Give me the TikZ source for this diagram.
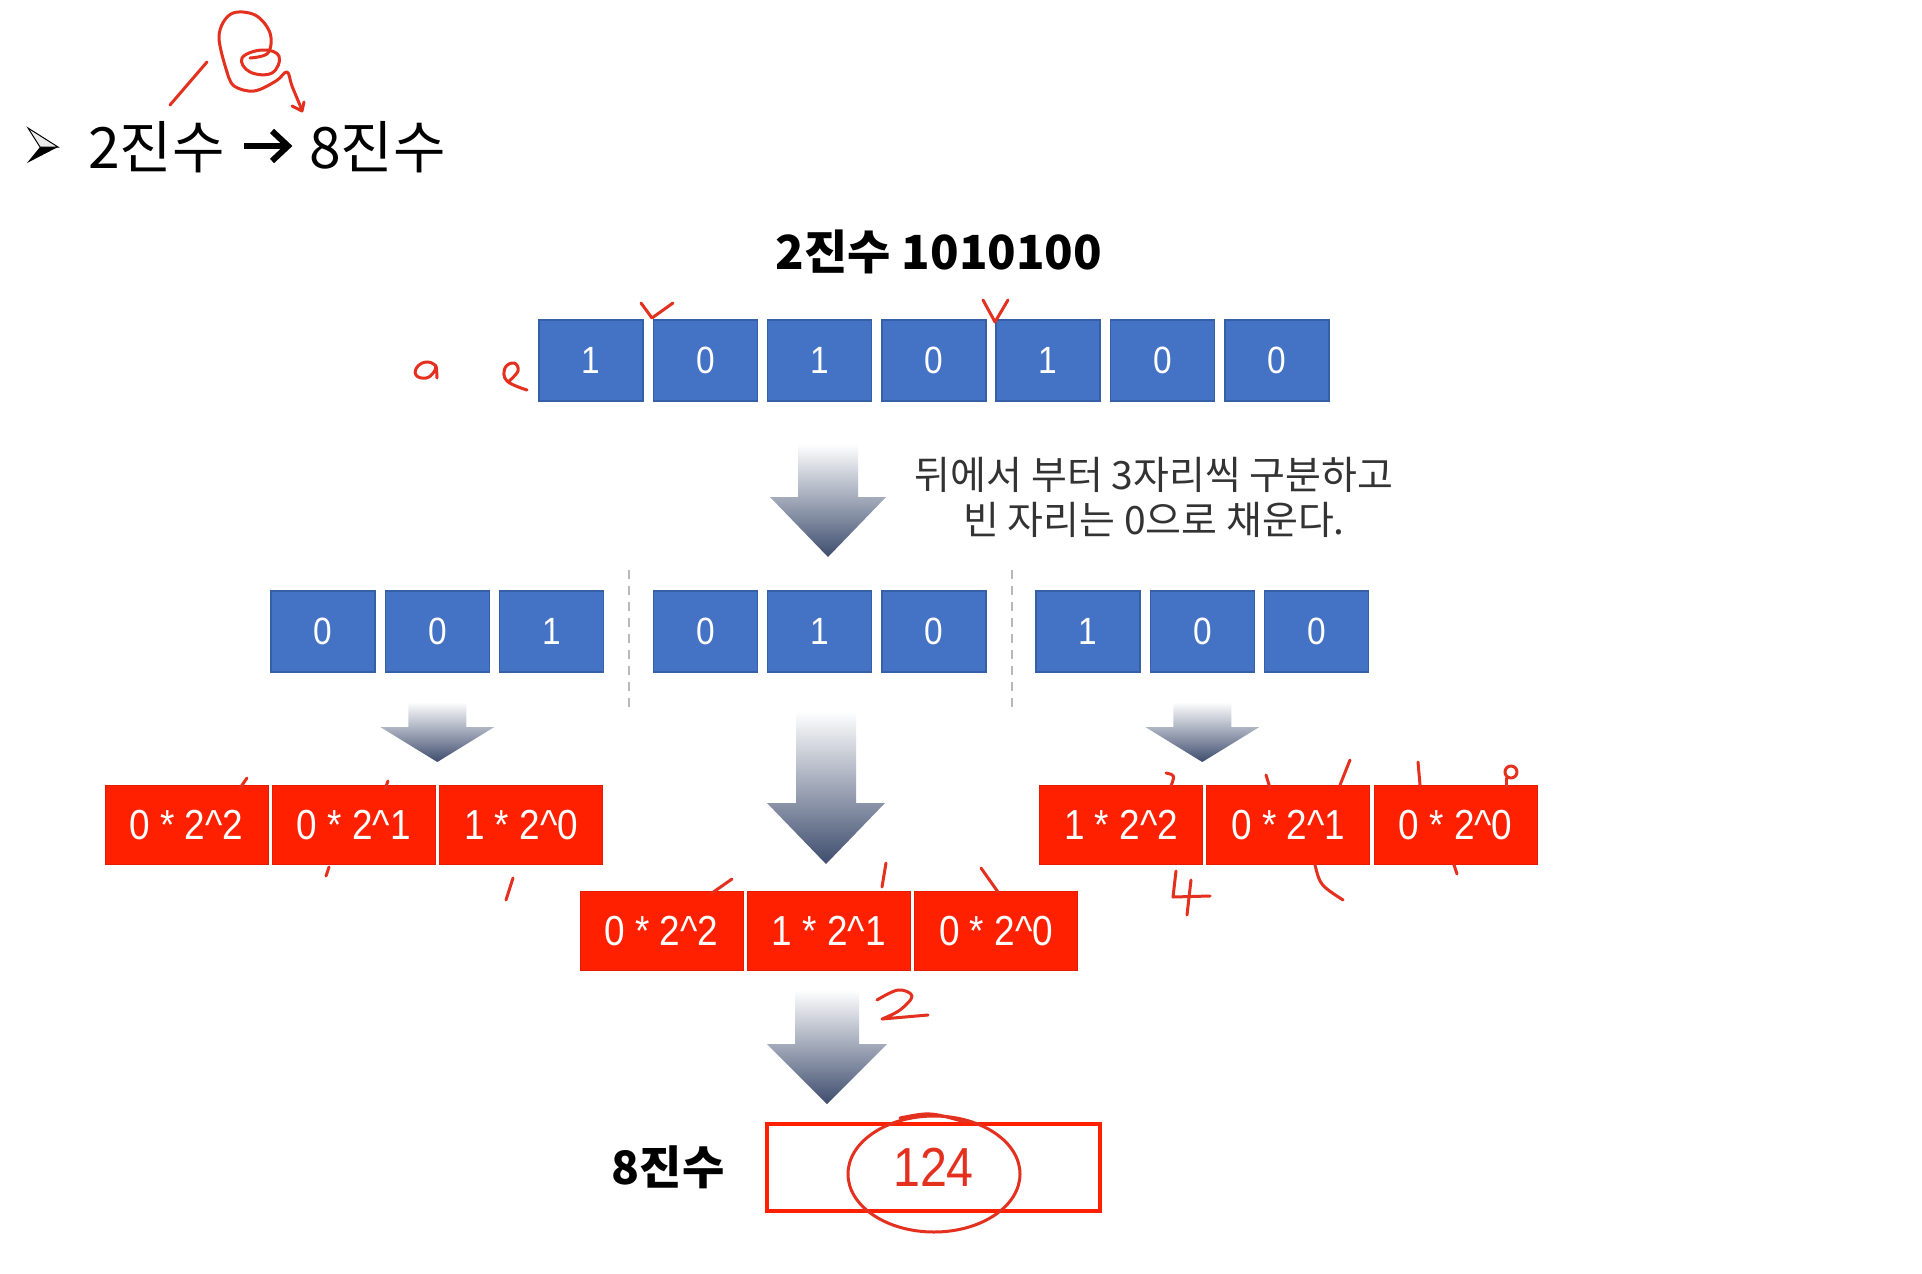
\documentclass[tikz,border=0pt]{standalone}
\usepackage{fontspec}
\setmainfont{Noto Sans CJK KR}
\newfontfamily\numfont[FakeStretch=0.88]{Liberation Sans}
\definecolor{boxblue}{HTML}{4472C4}
\definecolor{boxblueedge}{HTML}{3560A8}
\definecolor{boxred}{HTML}{FF2000}
\definecolor{boxrededge}{HTML}{E41C00}
\definecolor{arrowdark}{HTML}{3E4D6E}
\definecolor{ink}{HTML}{E4301E}
\definecolor{textgray}{HTML}{333333}
\newcommand{\downblockarrow}[6]{%
  \shade[top color=white, bottom color=arrowdark]
    (#1-#5,#2) -- (#1+#5,#2) -- (#1+#5,#3) -- (#1+#6,#3) -- (#1,#4)
    -- (#1-#6,#3) -- (#1-#5,#3) -- cycle;}
\tikzset{
  bbox/.style={rectangle, fill=boxblue, draw=boxblueedge, line width=1.5,
    minimum width=104, minimum height=81, inner sep=0, text=white,
    font=\numfont\fontsize{38}{38}\selectfont},
  rbox/.style={rectangle, fill=boxred, draw=boxrededge, line width=1,
    minimum width=163, minimum height=79, inner sep=0, text=white,
    font=\numfont\fontsize{42}{42}\selectfont},
  sepline/.style={draw=gray!55, line width=2, dash pattern=on 9pt off 7pt},
  ink/.style={draw=ink, line width=3, line cap=round, line join=round},
  titletext/.style={inner sep=0, font=\fontsize{57}{57}\selectfont},
}
\begin{document}
\begin{tikzpicture}[x=1pt,y=-1pt]
\useasboundingbox[fill=white] (0,0) rectangle (1922,1274);

% title bullet
\fill[black] (40,147) -- (58,147) -- (27,163) -- cycle;
\filldraw[fill=gray!15, draw=black, line width=1] (28,128) -- (58,147) -- (40,147) -- cycle;
\node[titletext, anchor=west] (from) at (88,147) {2진수};
\node[titletext, anchor=west] (to) at (309,147) {8진수};
\coordinate (arrs) at (244,146);
\coordinate (arre) at (288,146);
\draw[line width=6] (arrs) -- (arre);
\draw[line width=6, line join=miter] ([xshift=-16pt,yshift=-15pt]arre) -- (arre) -- ([xshift=-16pt,yshift=15pt]arre);

% binary number
\node[font=\bfseries\fontsize{47}{47}\selectfont] (bin) at (939,252) {2진수 1010100};
\foreach \v [count=\i from 0] in {1,0,1,0,1,0,0}
  \node[bbox] (t\i) at (591+114.3*\i,360.5) {\v};

% first arrow and note
\downblockarrow{828}{444}{497}{557}{30}{58}
\node[font=\fontsize{39}{45}\selectfont, text=textgray, align=center] (note) at (1154,497)
  {뒤에서 부터 3자리씩 구분하고\\빈 자리는 0으로 채운다.};

% groups of three
\foreach \v [count=\i from 0] in {0,0,1}
  \node[bbox] (a\i) at (323+114.3*\i,631.5) {\v};
\foreach \v [count=\i from 0] in {0,1,0}
  \node[bbox] (b\i) at (705.3+114.3*\i,631.5) {\v};
\foreach \v [count=\i from 0] in {1,0,0}
  \node[bbox] (c\i) at (1088+114.3*\i,631.5) {\v};
\draw[sepline] (629,570) -- (629,707);
\draw[sepline] (1012,570) -- (1012,707);

% arrows to the products
\downblockarrow{437.3}{702}{727}{762}{29}{57}
\downblockarrow{1202.3}{702}{727}{762}{29}{57}
\downblockarrow{826}{711}{803}{864}{30}{59}

% products
\node[rbox] (l0) at (186.5,825) {0 * 2\textasciicircum 2};
\node[rbox] (l1) at (353.8,825) {0 * 2\textasciicircum 1};
\node[rbox] (l2) at (521.1,825) {1 * 2\textasciicircum 0};
\node[rbox] (m0) at (661.5,931) {0 * 2\textasciicircum 2};
\node[rbox] (m1) at (828.8,931) {1 * 2\textasciicircum 1};
\node[rbox] (m2) at (996.1,931) {0 * 2\textasciicircum 0};
\node[rbox] (r0) at (1121,825) {1 * 2\textasciicircum 2};
\node[rbox] (r1) at (1288.3,825) {0 * 2\textasciicircum 1};
\node[rbox] (r2) at (1455.6,825) {0 * 2\textasciicircum 0};

% result
\downblockarrow{827}{990}{1044}{1104}{32}{60}
\node[font=\bfseries\fontsize{46}{46}\selectfont] (oct) at (668,1167) {8진수};
\node[draw=boxred, line width=4, minimum width=333, minimum height=87, inner sep=0,
  text=ink, font=\numfont\fontsize{55}{55}\selectfont] (res) at (933.5,1167.5) {124};

% handwritten red ink
\draw[ink] (170,105) -- (207,62);
\draw[ink] plot[smooth, tension=0.6] coordinates {(227,72) (219,36) (231,14) (255,15) (270,33) (268,53) (250,58)};
\draw[ink] plot[smooth cycle, tension=0.7] coordinates {(242,58) (262,50) (279,56) (272,73) (250,72)};
\draw[ink] plot[smooth, tension=0.6] coordinates {(227,72) (234,86) (254,91) (276,81) (287,72) (292,86) (302,110)};
\draw[ink] (292,106) -- (302,111) -- (304,102);
\draw[ink] plot[smooth, tension=0.8] coordinates {(436,366) (428,362) (418,366) (416,375) (426,378) (434,372) (436,366) (437,378)};
\draw[ink] plot[smooth, tension=0.7] coordinates {(508,382) (518,371) (514,363) (505,368) (507,381) (527,390)};
\draw[ink] (641,303) -- (652,318) -- (673,303);
\draw[ink] (983,300) -- (995,322) -- (1008,300);
\draw[ink] (247,778) -- (240,788);
\draw[ink] (388,781) -- (385,789);
\draw[ink] (329,867) -- (326,876);
\draw[ink] (513,878) -- (506,900);
\draw[ink] (732,879) -- (712,893);
\draw[ink] (886,863) -- (882,887);
\draw[ink] (981,868) -- (998,892);
\draw[ink] (1166,773) .. controls (1175,775) .. (1171,786);
\draw[ink] (1266,775) -- (1270,788);
\draw[ink] (1350,760) -- (1340,785);
\draw[ink] (1418,762) -- (1420,785);
\draw[ink] (1511,772) circle[radius=6];
\draw[ink] (1506,778) -- (1506,787);
\draw[ink] (1315,865) .. controls (1320,885) .. (1343,900);
\draw[ink] (1454,865) -- (1457,874);
\draw[ink] (1176,871) -- (1173,897) -- (1210,896);
\draw[ink] (1191,880) -- (1187,915);
\draw[ink] plot[smooth, tension=0.6] coordinates {(877,1000) (898,990) (912,996) (900,1010) (882,1019)} -- (928,1015);
\draw[ink] (934,1174) ellipse[x radius=86, y radius=58];
\draw[ink] (900,1118) .. controls (930,1112) .. (965,1122);
\end{tikzpicture}
\end{document}
